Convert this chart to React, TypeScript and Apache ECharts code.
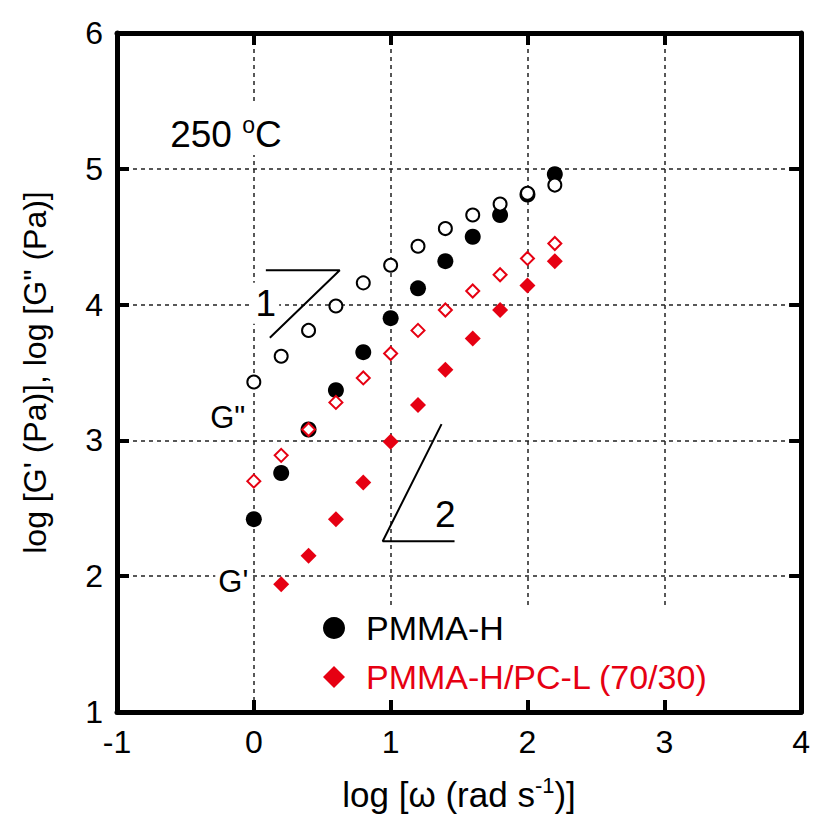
import React, { useEffect, useRef } from 'react';
import * as echarts from 'echarts';

// log ω (rad/s)
const logOmega = [0, 0.2, 0.4, 0.6, 0.8, 1.0, 1.2, 1.4, 1.6, 1.8, 2.0, 2.2];
const blendOmega = [0.2, 0.4, 0.6, 0.8, 1.0, 1.2, 1.4, 1.6, 1.8, 2.0, 2.2];
// PMMA-H
const pmmaGp = [2.42, 2.76, 3.08, 3.37, 3.65, 3.90, 4.12, 4.32, 4.50, 4.66, 4.81, 4.96];
const pmmaGpp = [3.43, 3.62, 3.81, 3.99, 4.16, 4.29, 4.43, 4.56, 4.66, 4.74, 4.82, 4.88];
// PMMA-H/PC-L (70/30)
const blendGp = [1.94, 2.15, 2.42, 2.69, 2.99, 3.26, 3.52, 3.75, 3.96, 4.14, 4.32];
const blendGpp = [2.70, 2.89, 3.08, 3.28, 3.46, 3.64, 3.81, 3.96, 4.10, 4.22, 4.34, 4.45];
// slope guides (data coordinates)
const slope1 = [[0.088, 4.253], [0.628, 4.253], [0.117, 3.756]];
const slope2 = [[1.372, 3.12], [0.942, 2.257], [1.467, 2.257]];

const RED = '#e60012';
const FONT = 'Liberation Sans, Arial, sans-serif';

export default function App() {
  const ref = useRef<HTMLDivElement>(null);
  useEffect(() => {
    const chart = echarts.init(ref.current!, null, { renderer: 'svg' });
    const zip = (xs: number[], ys: number[]) => xs.map((x, i) => [x, ys[i]]);
    const axisCommon = {
      type: 'value' as const,
      axisLine: { show: true, onZero: false, lineStyle: { color: '#000', width: 5 } },
      axisTick: { show: true, inside: true, length: 12, lineStyle: { color: '#000', width: 4 } },
    };
    const textLabel = (x: number, y: number, text: string, extra: any = {}) => ({
      value: [x, y],
      label: {
        show: true,
        position: 'inside',
        formatter: text,
        color: '#000',
        opacity: 1,
        fontFamily: FONT,
        fontSize: 32,
        backgroundColor: '#fff',
        padding: [2, 3],
        ...extra,
      },
    });
    chart.setOption({
      animation: false,
      backgroundColor: '#fff',
      textStyle: { fontFamily: FONT },
      grid: { left: 117, top: 33, right: 11, bottom: 100, containLabel: false },
      legend: {
        orient: 'vertical',
        left: 303,
        top: 605,
        padding: [6, 40, 6, 20],
        backgroundColor: '#fff',
        itemWidth: 22,
        itemHeight: 22,
        itemGap: 15,
        textStyle: { fontSize: 34, fontFamily: FONT, padding: [0, 0, 0, 16] },
        data: [
          { name: 'PMMA-H', textStyle: { color: '#000' } },
          { name: 'PMMA-H/PC-L (70/30)', textStyle: { color: RED } },
        ],
      },
      xAxis: [
        {
          ...axisCommon,
          position: 'bottom',
          min: -1,
          max: 4,
          interval: 1,
          axisLabel: { fontSize: 32, color: '#000', margin: 14, fontFamily: FONT },
          splitLine: { show: true, lineStyle: { color: '#222', width: 1.5, type: [4, 4] } },
          name: '{n|log [ω (rad s}{sup|-1}{n|)]}',
          nameLocation: 'middle',
          nameGap: 62,
          nameTextStyle: {
            rich: {
              n: { fontSize: 35, fontFamily: FONT, color: '#000', verticalAlign: 'bottom', lineHeight: 38 },
              sup: { fontSize: 22, fontFamily: FONT, color: '#000', verticalAlign: 'top', lineHeight: 22 },
            },
          },
        },
        {
          ...axisCommon,
          position: 'top',
          min: -1,
          max: 4,
          interval: 1,
          axisLabel: { show: false },
          splitLine: { show: false },
        },
      ],
      yAxis: [
        {
          ...axisCommon,
          position: 'left',
          min: 1,
          max: 6,
          interval: 1,
          axisLabel: { fontSize: 32, color: '#000', margin: 14, fontFamily: FONT },
          splitLine: { show: true, lineStyle: { color: '#222', width: 1.5, type: [4, 4] } },
          name: 'log [G\' (Pa)], log [G" (Pa)]',
          nameLocation: 'middle',
          nameGap: 66,
          nameTextStyle: { fontSize: 32, color: '#000', fontFamily: FONT },
        },
        {
          ...axisCommon,
          position: 'right',
          min: 1,
          max: 6,
          interval: 1,
          axisLabel: { show: false },
          splitLine: { show: false },
        },
      ],
      series: [
        {
          name: 'slope1',
          type: 'line',
          data: slope1,
          symbol: 'none',
          lineStyle: { color: '#000', width: 2 },
          silent: true,
          z: 1,
        },
        {
          name: 'slope2',
          type: 'line',
          data: slope2,
          symbol: 'none',
          lineStyle: { color: '#000', width: 2 },
          silent: true,
          z: 1,
        },
        {
          name: 'labels',
          type: 'scatter',
          symbolSize: 1,
          itemStyle: { color: 'rgba(0,0,0,0)', opacity: 1 },
          silent: true,
          z: 1,
          data: [
            textLabel(-0.204, 5.30, '{n|250 }{sup|o}{n|C}', {
              padding: [12, 4, 2, 4],
              rich: {
                n: { fontSize: 37, fontFamily: FONT, color: '#000', verticalAlign: 'bottom', lineHeight: 40 },
                sup: { fontSize: 23, fontFamily: FONT, color: '#000', verticalAlign: 'top', lineHeight: 22 },
              },
            }),
            textLabel(0.088, 4.01, '1', { fontSize: 37 }),
            textLabel(1.40, 2.455, '2', { fontSize: 37, backgroundColor: 'transparent' }),
            textLabel(-0.19, 3.17, 'G"', { fontSize: 31 }),
            textLabel(-0.15, 1.96, "G'", { fontSize: 31 }),
          ],
        },
        {
          name: 'PMMA-H',
          type: 'scatter',
          data: zip(logOmega, pmmaGp),
          symbol: 'circle',
          symbolSize: 16,
          itemStyle: { color: '#000', opacity: 1 },
          z: 3,
        },
        {
          name: 'PMMA-H/PC-L (70/30)',
          type: 'scatter',
          data: zip(blendOmega, blendGp),
          symbol: 'diamond',
          symbolSize: 16,
          itemStyle: { color: RED, opacity: 1 },
          z: 3,
        },
        {
          name: 'PMMA-H G"',
          type: 'scatter',
          data: zip(logOmega, pmmaGpp),
          symbol: 'circle',
          symbolSize: 13,
          itemStyle: { color: '#fff', borderColor: '#000', borderWidth: 2, opacity: 1 },
          z: 4,
        },
        {
          name: 'PMMA-H/PC-L G"',
          type: 'scatter',
          data: zip(logOmega, blendGpp),
          symbol: 'diamond',
          symbolSize: 13,
          itemStyle: { color: '#fff', borderColor: RED, borderWidth: 2, opacity: 1 },
          z: 4,
        },
      ],
    });
    return () => chart.dispose();
  }, []);
  return <div ref={ref} style={{ position: 'fixed', left: 0, top: 0, width: 813, height: 817 }} />;
}
